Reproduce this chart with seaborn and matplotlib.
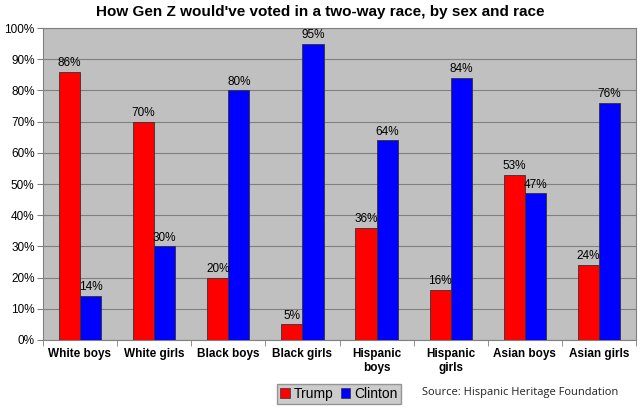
import pandas as pd
import seaborn as sns
import matplotlib.pyplot as plt
from matplotlib.ticker import FixedLocator, PercentFormatter

groups = ['White boys', 'White girls', 'Black boys', 'Black girls',
          'Hispanic\nboys', 'Hispanic\ngirls', 'Asian boys', 'Asian girls']
trump = [86, 70, 20, 5, 36, 16, 53, 24]
clinton = [14, 30, 80, 95, 64, 84, 47, 76]

df = pd.DataFrame({
    'group': groups * 2,
    'candidate': ['Trump'] * len(groups) + ['Clinton'] * len(groups),
    'pct': trump + clinton,
})

sns.set_style('white')
plt.rcParams['font.family'] = ['Liberation Sans', 'DejaVu Sans']
plt.rcParams['text.color'] = 'black'
plt.rcParams['xtick.labelcolor'] = 'black'
plt.rcParams['ytick.labelcolor'] = 'black'

fig = plt.figure(figsize=(6.4, 4.08), dpi=100)
ax = fig.add_axes([0.067, 0.167, 0.927, 0.764])
ax.set_facecolor('#C0C0C0')

sns.barplot(data=df, x='group', y='pct', hue='candidate', order=groups,
            hue_order=['Trump', 'Clinton'], palette=['#FF0000', '#0000FF'],
            width=0.57, gap=0, edgecolor='#333333', linewidth=0.6,
            saturation=1, ax=ax, legend=False, zorder=3)

for cont in ax.containers:
    ax.bar_label(cont, fmt='%d%%', padding=2, fontsize=8.5, color='black')

ax.set_ylim(0, 100)
ax.set_xlim(-0.5, len(groups) - 0.5)
ax.set_yticks(range(0, 101, 10))
ax.yaxis.set_major_formatter(PercentFormatter(decimals=0))
ax.grid(axis='y', color='#808080', linewidth=0.8, zorder=0)
ax.set_axisbelow(True)
ax.set_xlabel('')
ax.set_ylabel('')

ax.tick_params(axis='y', labelsize=8.5, length=4, direction='out', color='#808080',
               left=True, pad=2, labelcolor='black')
ax.tick_params(axis='x', which='major', length=0, labelsize=8.5, pad=6,
               labelcolor='black')
for lab in ax.get_xticklabels():
    lab.set_fontweight('bold')
ax.xaxis.set_minor_locator(FixedLocator([i - 0.5 for i in range(len(groups) + 1)]))
ax.tick_params(axis='x', which='minor', length=4, direction='out', color='#808080',
               bottom=True)

for side in ['left', 'bottom', 'top', 'right']:
    ax.spines[side].set_visible(True)
    ax.spines[side].set_color('#808080')
    ax.spines[side].set_linewidth(0.8)

fig.text(0.5, 1 - 12 / 408, "How Gen Z would've voted in a two-way race, by sex and race",
         fontsize=11, fontweight='bold', color='black', ha='center', va='center')

handles = [plt.Rectangle((0, 0), 1, 1, facecolor=c, edgecolor='#333333', linewidth=0.5)
           for c in ['#FF0000', '#0000FF']]
leg = fig.legend(handles, ['Trump', 'Clinton'], loc='center',
                 bbox_to_anchor=(339 / 640, 1 - 394 / 408), ncol=2, fontsize=10,
                 frameon=True, fancybox=False, handlelength=0.7, handleheight=0.7,
                 handletextpad=0.3, columnspacing=0.5, borderpad=0.25)
leg.get_frame().set_facecolor('#C0C0C0')
leg.get_frame().set_edgecolor('#808080')
leg.get_frame().set_linewidth(1.0)
for t in leg.get_texts():
    t.set_color('black')

fig.text(422 / 640, 1 - 392 / 408, 'Source: Hispanic Heritage Foundation',
         fontsize=8, family=['Open Sans', 'DejaVu Sans'], va='center', ha='left',
         color='#222222')

fig.savefig('out.png', dpi=100)
